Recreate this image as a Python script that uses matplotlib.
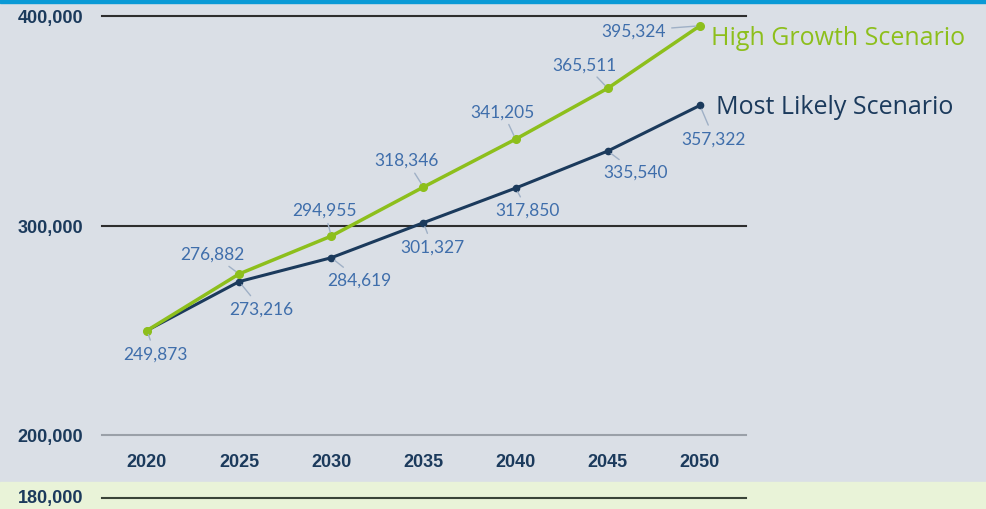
import matplotlib.pyplot as plt

# datos
years = [2020, 2025, 2030, 2035, 2040, 2045, 2050]
high_growth = [249873, 276882, 294955, 318346, 341205, 365511, 395324]
most_likely = [249873, 273216, 284619, 301327, 317850, 335540, 357322]
y_ticks = [200000, 300000, 400000]

# desplazamientos de las etiquetas (pixeles)
off_high = [None, (-27, 20), (-7, 26), (-17, 27), (-13, 28), (-23, 24), (-66, -5)]
off_likely = [(8, -23), (22, -27), (28, -22), (9, -24), (12, -22), (28, -21), (14, -33)]

bg = '#dadfe6'
green = '#8dbf1c'
navy = '#1b3a5c'
lab_col = '#3f6eab'
lead_col = '#9fb0c6'

W, H = 986, 510
fig = plt.figure(figsize=(W / 100, H / 100), dpi=100, facecolor=bg)

# franja azul superior y banda verde inferior
fig.patches.append(plt.Rectangle((0, 1 - 4 / H), 1, 4 / H, transform=fig.transFigure,
                                 color='#0a9ad6', zorder=0))
fig.patches.append(plt.Rectangle((0, 0), 1, 27 / H, transform=fig.transFigure,
                                 color='#e9f3d8', zorder=0))
fig.add_artist(plt.Line2D([102 / W, 746 / W], [1 - 499 / H] * 2, color='#3a4438', lw=1.5))
fig.text(83 / W, 1 - 499 / H, '180,000', ha='right', va='center', fontsize=13,
         fontweight='bold', color=navy, family='Liberation Sans')

ax = fig.add_axes([102 / W, 1 - 436 / H, (746 - 102) / W, (436 - 17) / H])
ax.set_facecolor(bg)
ax.set_xlim(2017.56, 2052.5)
ax.set_ylim(200000, 400000)
for s in ax.spines.values():
    s.set_visible(False)

for v in y_ticks:
    c = '#9aa0a8' if v == 200000 else '#2e2e2e'
    ax.axhline(v, color=c, lw=1.5, clip_on=False, zorder=1)

ax.set_yticks(y_ticks)
ax.set_yticklabels([f'{v:,}' for v in y_ticks])
ax.set_xticks(years)
ax.set_xticklabels([str(y) for y in years])
ax.tick_params(length=0, labelsize=13, labelcolor=navy)
ax.tick_params(axis='y', pad=13.5)
ax.tick_params(axis='x', pad=13)
for t in ax.get_xticklabels() + ax.get_yticklabels():
    t.set_fontweight('bold')
    t.set_family('Liberation Sans')

ax.plot(years, most_likely, color=navy, lw=2.2, marker='o', ms=4.5, zorder=3, clip_on=False)
ax.plot(years, high_growth, color=green, lw=2.5, marker='o', ms=5.5, zorder=4, clip_on=False)

def etiquetas(vals, offs):
    for x, v, o in zip(years, vals, offs):
        if o is None:
            continue
        ax.annotate(f'{v:,}', xy=(x, v), xytext=o, textcoords='offset pixels',
                    ha='center', va='center', fontsize=12.5, color=lab_col, family='Lato',
                    arrowprops=dict(arrowstyle='-', color=lead_col, lw=1,
                                    shrinkA=2, shrinkB=3), zorder=5)

etiquetas(high_growth, off_high)
etiquetas(most_likely, off_likely)

ax.annotate('High Growth Scenario', xy=(2050, high_growth[-1]), xytext=(11, -12),
            textcoords='offset pixels', ha='left', va='center', fontsize=18,
            color=green, family='Open Sans', annotation_clip=False)
ax.annotate('Most Likely Scenario', xy=(2050, most_likely[-1]), xytext=(16, -1),
            textcoords='offset pixels', ha='left', va='center', fontsize=18,
            color=navy, family='Open Sans', annotation_clip=False)

fig.savefig('out.png', dpi=100, facecolor=bg)
